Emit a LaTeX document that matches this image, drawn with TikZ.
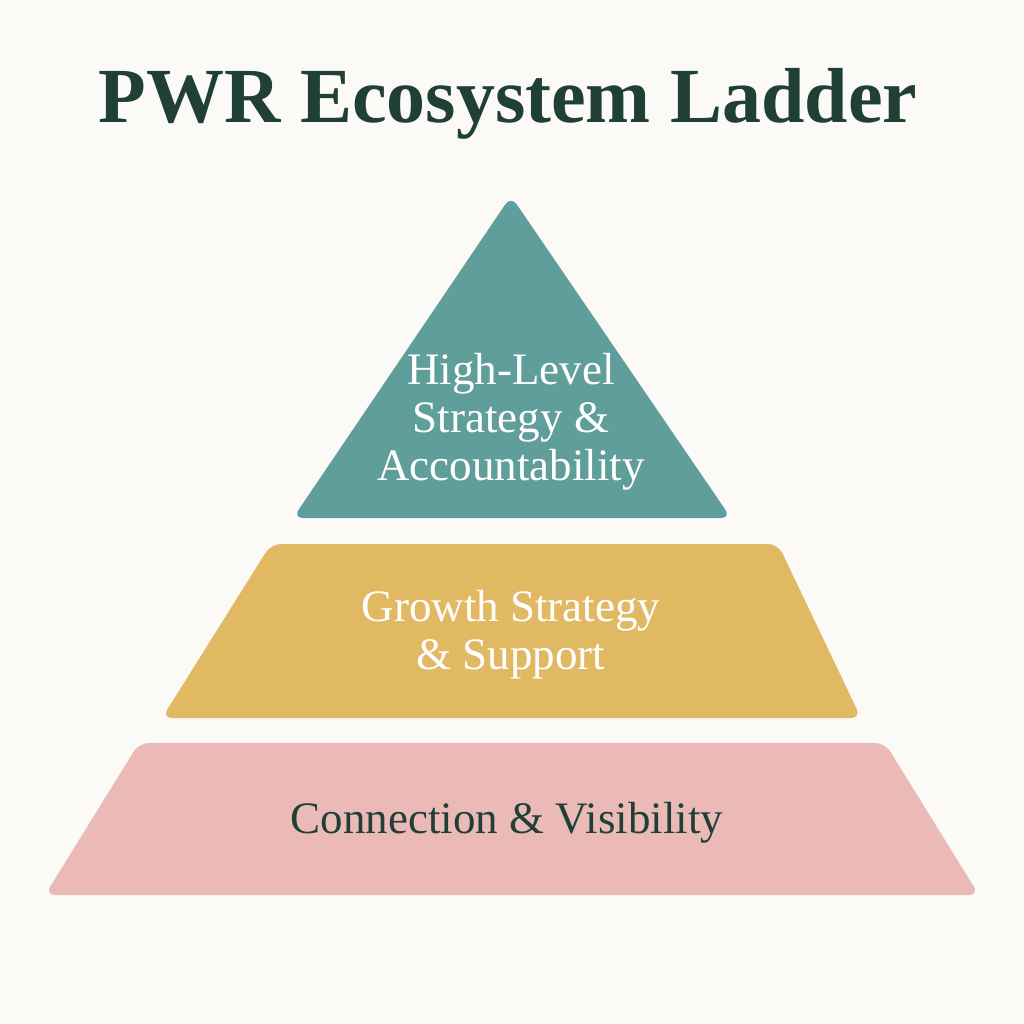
\documentclass[tikz,border=0pt]{standalone}
\usepackage{fontspec}
\setmainfont{Liberation Serif}
\usepackage{tikz}

\definecolor{bgcream}{HTML}{FCFAF6}
\definecolor{darkgreen}{HTML}{1F3F37}
\definecolor{tealtop}{HTML}{5F9E9A}
\definecolor{goldmid}{HTML}{E2B963}
\definecolor{pinkbase}{HTML}{EBBAB7}

\begin{document}
\begin{tikzpicture}[x = 1pt, y = -1pt,
                        tier/.style = {rounded corners = 10pt, draw = none},
                        label/.style = {align = center, font = \fontsize{45}{48}\selectfont, inner sep = 0pt}]
      \fill [bgcream] (0, 0) rectangle (1024, 1024);
      \useasboundingbox (0, 0) rectangle (1024, 1024);

      \node [font = \fontsize{78}{80}\selectfont\bfseries, text = darkgreen, inner sep = 0pt] (title) at (508, 104){PWR Ecosystem Ladder};

      \fill [tier, tealtop] (511, 196) -- (731, 518) -- (293, 518) -- cycle;
      \fill [tier, goldmid] (271, 544) -- (778, 544) -- (861, 718) -- (162, 718) -- cycle;
      \fill [tier, pinkbase] (139, 743) -- (885, 743) -- (979, 895) -- (45, 895) -- cycle;

      \node [label, text = white] (top) at (511, 422){High-Level\\Strategy \&\\Accountability};
      \node [label, text = white] (mid) at (511, 635){Growth Strategy\\\& Support};
      \node [label, text = darkgreen] (base) at (507, 823){Connection \& Visibility};

      \end{tikzpicture}
\end{document}
